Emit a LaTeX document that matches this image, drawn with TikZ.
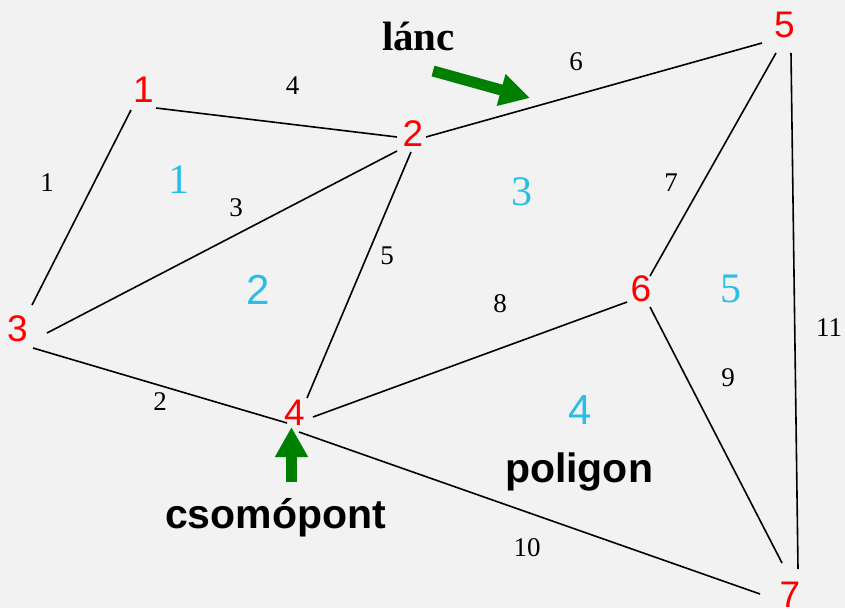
\documentclass[tikz,border=0pt]{standalone}
\usepackage{fontspec}
\setmainfont{Liberation Serif}
\setsansfont{Liberation Sans}
\usetikzlibrary{arrows.meta}
\definecolor{bg}{RGB}{242,242,242}
\definecolor{vred}{RGB}{255,0,0}
\definecolor{fcyan}{RGB}{40,190,230}
\definecolor{agreen}{RGB}{0,128,0}
\tikzset{
  vlab/.style={inner sep=0pt, text=vred, font=\sffamily\fontsize{37}{40}\selectfont},
  elab/.style={inner sep=0pt, text=black, font=\rmfamily\fontsize{27}{30}\selectfont},
  flabserif/.style={inner sep=0pt, text=fcyan, font=\rmfamily\fontsize{42}{46}\selectfont},
  flabsans/.style={inner sep=0pt, text=fcyan, font=\sffamily\fontsize{42}{46}\selectfont},
  edge/.style={line width=1.6pt, black},
  callout/.style={inner sep=0pt, anchor=base, text=black},
  bigarrow/.style={line width=11pt, agreen, -{Triangle[width=31pt,length=30pt]}}
}
\begin{document}
\begin{tikzpicture}[x=1pt,y=-1pt]
\fill[bg] (0,0) rectangle (845,608);
\useasboundingbox (0,0) rectangle (845,608);
% vertices
\node[vlab] (v1) at (143.5,89.5) {1};
\node[vlab] (v2) at (413,133.5) {2};
\node[vlab] (v3) at (17.5,328.5) {3};
\node[vlab] (v4) at (294.5,412.5) {4};
\node[vlab] (v5) at (784.5,25) {5};
\node[vlab] (v6) at (641,288.5) {6};
\node[vlab] (v7) at (790,594.5) {7};
% edges
\draw[edge] ([shift={(-12.5,20.5)}]v1.center) -- ([shift={(14.5,-23.5)}]v3.center);
\draw[edge] ([shift={(12.5,18.5)}]v1.center) -- ([shift={(-16,3.5)}]v2.center);
\draw[edge] ([shift={(29.5,4.5)}]v3.center) -- ([shift={(-16,17.5)}]v2.center);
\draw[edge] ([shift={(13,3.5)}]v2.center) -- ([shift={(-22.5,18)}]v5.center);
\draw[edge] ([shift={(-2,18.5)}]v2.center) -- ([shift={(12.5,-14.5)}]v4.center);
\draw[edge] ([shift={(15.5,19.5)}]v3.center) -- ([shift={(-7.5,10.5)}]v4.center);
\draw[edge] ([shift={(18.5,4.5)}]v4.center) -- ([shift={(-14,13.5)}]v6.center);
\draw[edge] ([shift={(9,-12.5)}]v6.center) -- ([shift={(-8.5,28)}]v5.center);
\draw[edge] ([shift={(9,18.5)}]v6.center) -- ([shift={(-8,-31.5)}]v7.center);
\draw[edge] ([shift={(6.5,28)}]v5.center) -- ([shift={(8,-25.5)}]v7.center);
\draw[edge] ([shift={(4.5,19.5)}]v4.center) -- ([shift={(-30,-0.5)}]v7.center);
% edge labels
\node[elab] (e1) at (47,183) {1};
\node[elab] (e4) at (292.5,86) {4};
\node[elab] (e3) at (236,207.5) {3};
\node[elab] (e6) at (576,62) {6};
\node[elab] (e5) at (387,256) {5};
\node[elab] (e2) at (160,402) {2};
\node[elab] (e8) at (500,304) {8};
\node[elab] (e7) at (671,183) {7};
\node[elab] (e9) at (728,378) {9};
\node[elab] (e11) at (829,328) {11};
\node[elab] (e10) at (527,548) {10};
% face labels
\node[flabserif] (f1) at (179,179.5) {1};
\node[flabsans] (f2) at (258,290) {2};
\node[flabserif] (f3) at (522,192) {3};
\node[flabsans] (f4) at (580,410.5) {4};
\node[flabserif] (f5) at (731,289) {5};
% callouts
\node[callout, font=\rmfamily\bfseries\fontsize{41}{44}\selectfont] (lanc) at (418.5,50) {lánc};
\node[callout, font=\sffamily\bfseries\fontsize{41}{44}\selectfont] (csp) at (275.5,528) {csomópont};
\node[callout, font=\sffamily\bfseries\fontsize{41}{44}\selectfont] (pol) at (579,482) {poligon};
% arrows
\coordinate (a1s) at (433,71);
\coordinate (a1e) at (530,98);
\coordinate (a2s) at (291.5,482);
\draw[bigarrow] (a1s) -- (a1e);
\draw[bigarrow] (a2s) -- ([shift={(-3,14.5)}]v4.center);
\end{tikzpicture}
\end{document}
